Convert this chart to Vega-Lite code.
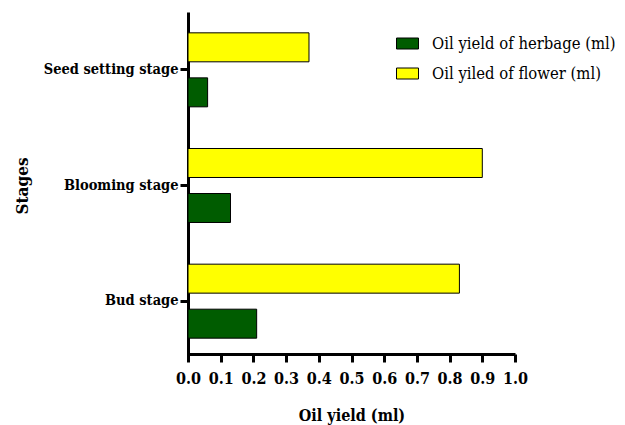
{
  "$schema": "https://vega.github.io/schema/vega-lite/v6.json",
  "width": 327,
  "height": 341,
  "autosize": {"type": "none"},
  "padding": {"left": 188, "top": 13, "right": 110, "bottom": 71},
  "background": "white",
  "config": {"view": {"stroke": null}},
  "data": {
    "values": [
      {"stage": "Seed setting stage", "series": "Oil yield of herbage (ml)", "value": 0.06},
      {"stage": "Seed setting stage", "series": "Oil yiled of flower (ml)", "value": 0.37},
      {"stage": "Blooming stage", "series": "Oil yield of herbage (ml)", "value": 0.13},
      {"stage": "Blooming stage", "series": "Oil yiled of flower (ml)", "value": 0.90},
      {"stage": "Bud stage", "series": "Oil yield of herbage (ml)", "value": 0.21},
      {"stage": "Bud stage", "series": "Oil yiled of flower (ml)", "value": 0.83}
    ]
  },
  "mark": {"type": "bar", "stroke": "black", "strokeWidth": 1},
  "encoding": {
    "y": {
      "field": "stage",
      "type": "nominal",
      "sort": ["Seed setting stage", "Blooming stage", "Bud stage"],
      "scale": {"range": [-1, 346], "paddingInner": 0, "paddingOuter": 0},
      "axis": {
        "title": "Stages",
        "titleFont": "DejaVu Serif Condensed",
        "titleFontSize": 17,
        "titleFontWeight": "bold",
        "titleColor": "black",
        "titleX": -157,
        "labelFont": "DejaVu Serif Condensed",
        "labelFontSize": 14.5,
        "labelFontWeight": "bold",
        "labelColor": "black",
        "labelPadding": 2,
        "domainColor": "black",
        "domainWidth": 3,
        "tickColor": "black",
        "tickWidth": 3,
        "tickSize": 8
      }
    },
    "yOffset": {
      "field": "series",
      "type": "nominal",
      "sort": ["Oil yiled of flower (ml)", "Oil yield of herbage (ml)"],
      "scale": {"paddingInner": 0.356, "paddingOuter": 0.463}
    },
    "x": {
      "field": "value",
      "type": "quantitative",
      "scale": {"domain": [0, 1], "nice": false},
      "axis": {
        "title": "Oil yield (ml)",
        "values": [0, 0.1, 0.2, 0.3, 0.4, 0.5, 0.6, 0.7, 0.8, 0.9, 1.0],
        "format": ".1f",
        "grid": false,
        "titleFont": "DejaVu Serif Condensed",
        "titleFontSize": 16,
        "titleFontWeight": "bold",
        "titleColor": "black",
        "titlePadding": 21,
        "labelFont": "DejaVu Serif Condensed",
        "labelFontSize": 16,
        "labelFontWeight": "bold",
        "labelColor": "black",
        "labelPadding": 8,
        "labelFlush": false,
        "labelOverlap": false,
        "domainColor": "black",
        "domainWidth": 3,
        "tickColor": "black",
        "tickWidth": 3,
        "tickSize": 8
      }
    },
    "fill": {
      "field": "series",
      "type": "nominal",
      "scale": {
        "domain": ["Oil yield of herbage (ml)", "Oil yiled of flower (ml)"],
        "range": ["#005c00", "#ffff00"]
      },
      "legend": {
        "title": null,
        "orient": "none",
        "legendX": 208,
        "legendY": 19,
        "symbolType": "M-1,-0.5H1V0.5H-1Z",
        "symbolSize": 484,
        "symbolStrokeColor": "black",
        "symbolStrokeWidth": 1,
        "symbolOpacity": 1,
        "labelFont": "DejaVu Serif Condensed",
        "labelFontSize": 16.5,
        "labelColor": "black",
        "labelOffset": 13,
        "rowPadding": 10,
        "labelLimit": 300
      }
    }
  }
}
